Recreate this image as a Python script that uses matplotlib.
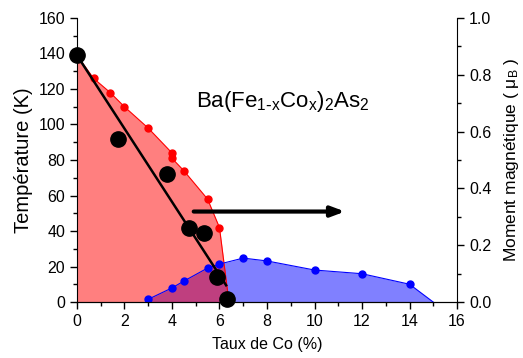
import matplotlib.pyplot as plt
import numpy as np

plt.rcParams['font.family'] = ['Liberation Sans', 'DejaVu Sans']
plt.rcParams['mathtext.default'] = 'regular'

# Tn (red, structural/magnetic transition)
x_tn = [0, 0.7, 1.4, 2.0, 3.0, 4.0, 4.0, 4.5, 5.5, 6.0, 6.4]
t_tn = [139, 126, 118, 110, 98, 84, 81, 74, 58, 42, 0]

# large black points (moment in K-scale)
x_big = [0, 1.75, 3.8, 4.7, 5.35, 5.9, 6.3]
t_big = [139, 92, 72, 42, 39, 14, 1.5]
x_fit = [0, 6.28]
t_fit = [139, 9.5]

# Tc (blue, superconductivity) on right axis scale
x_sc = [3.0, 4.0, 4.5, 5.5, 6.0, 7.0, 8.0, 10.0, 12.0, 14.0, 15.0]
m_sc = [0.01, 0.05, 0.074, 0.12, 0.134, 0.155, 0.145, 0.113, 0.10, 0.063, 0.0]

fig = plt.figure(figsize=(5.23, 3.58), dpi=100)
ax = fig.add_axes([0.147, 0.156, 0.727, 0.794])
ax2 = ax.twinx()

t_sc = np.array(m_sc) * 160
ax.fill_between(x_sc, 0, t_sc, color='#8080FF', lw=0, zorder=1)
ax.fill_between(x_tn, 0, t_tn, color='red', alpha=0.5, lw=0, zorder=2)
ax.plot(x_tn, t_tn, '-', color='red', lw=0.8, zorder=3)
ax.plot(x_tn[1:-1], t_tn[1:-1], 'o', color='red', ms=5, zorder=4)
ax.plot(x_sc, t_sc, '-', color='blue', lw=0.8, zorder=3)
ax.plot(x_sc[:-1], t_sc[:-1], 'o', color='blue', ms=5, zorder=4)
ax.plot(x_fit, t_fit, '-', color='black', lw=1.8, zorder=5)
ax.plot(x_big, t_big, 'o', color='black', ms=11, zorder=6, clip_on=False)

ax.annotate('', xy=(11.4, 51), xytext=(4.8, 51),
            arrowprops=dict(arrowstyle='-|>,head_length=0.8,head_width=0.3', color='black', lw=3),
            zorder=7)
ax.text(5.0, 113, r'Ba(Fe$_{1\text{-}x}$Co$_x$)$_2$As$_2$', fontsize=16, va='center')

ax.set_xlim(0, 16)
ax.set_ylim(0, 160)
ax2.set_ylim(0, 1.0)
ax.set_xticks(np.arange(0, 17, 2))
ax.set_xticks(np.arange(1, 16, 2), minor=True)
ax.set_yticks(np.arange(0, 161, 20))
ax.set_yticks(np.arange(10, 160, 20), minor=True)
ax2.set_yticks(np.arange(0, 1.01, 0.2))
ax2.set_yticks(np.arange(0.1, 1.0, 0.2), minor=True)
ax2.set_yticklabels(['0.0', '0.2', '0.4', '0.6', '0.8', '1.0'])

for a in (ax, ax2):
    a.spines['top'].set_visible(False)
    a.tick_params(which='major', length=5, width=1, labelsize=11.5, direction='out')
    a.tick_params(which='minor', length=3, width=1, direction='out')
ax2.spines['left'].set_visible(False)
ax.spines['right'].set_visible(False)

ax.set_xlabel('Taux de Co (%)', fontsize=11.5, labelpad=6)
ax.set_ylabel('Température (K)', fontsize=14.5)
ax2.set_ylabel(r'Moment magnétique ( $\mu_B$ )', fontsize=12.5, labelpad=8)

fig.savefig('out.png', dpi=100)
